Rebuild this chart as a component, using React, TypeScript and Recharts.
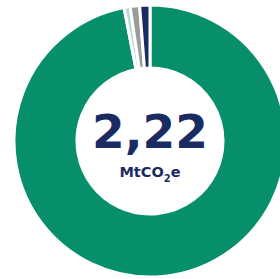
import React from 'react';
import { PieChart, Pie, Cell, Customized } from 'recharts';

const categories = ['A', 'B', 'C', 'D'];
const values = [2.152, 0.016, 0.025, 0.027];
const colors = ['#078e6a', '#b7d9d3', '#9b9b9b', '#1a2b63'];
const totalLabel = '2,22';
const unitLabel = 'MtCO';

const data = categories.map((c, i) => ({ name: c, value: values[i] }));

const CX = 150;
const CY = 141;

const CenterLabel = () => (
  <g>
    <text x={CX} y={CY + 7} textAnchor="middle" fill="#1a2b63"
      style={{ fontFamily: 'DejaVu Sans', fontWeight: 700, fontSize: 47 }}>
      {totalLabel}
    </text>
    <text x={CX} y={CY + 36} textAnchor="middle" fill="#1a2b63"
      style={{ fontFamily: 'DejaVu Sans', fontWeight: 700, fontSize: 14.5 }}>
      {unitLabel}
      <tspan dy={5} fontSize={10}>2</tspan>
      <tspan dy={-5}>e</tspan>
    </text>
  </g>
);

export default function App() {
  return (
    <div style={{ position: 'absolute', left: 0, top: 0, width: 280, height: 279, background: '#fff' }}>
      <PieChart width={280} height={279} margin={{ top: 0, right: 0, bottom: 0, left: 0 }}>
        <Pie
          data={data}
          dataKey="value"
          cx={CX}
          cy={CY}
          innerRadius={73}
          outerRadius={136}
          startAngle={90}
          endAngle={-270}
          stroke="#ffffff"
          strokeWidth={3}
          isAnimationActive={false}
        >
          {data.map((d, i) => (
            <Cell key={d.name} fill={colors[i]} />
          ))}
        </Pie>
        <Customized component={<CenterLabel />} />
      </PieChart>
    </div>
  );
}
